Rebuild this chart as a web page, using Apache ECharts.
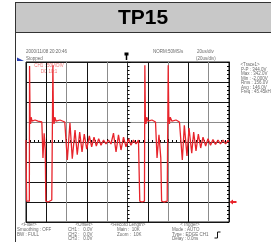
<!DOCTYPE html>
<html>
<head>
<meta charset="utf-8">
<script src="https://cdn.jsdelivr.net/npm/echarts@6/dist/echarts.min.js"></script>
<style>
  html, body { margin: 0; padding: 0; background: #fff; }
  #scope { width: 271px; height: 242px; }
</style>
</head>
<body>
<div id="scope"></div>
<script>
// CH1 trace, time in us (20us/div), volts (50V/div)
const timeUs = [
  0, 0.6, 2.0, 3.3, 3.5, 4.0, 4.5, 5.1, 5.9, 8.9,
  11.8, 15.6, 16.7, 17.9, 19.0, 19.5, 21.7, 25.4, 26.1, 26.5,
  27.0, 27.6, 28.4, 29.6, 33.5, 38.2, 40.7, 43.3, 45.6, 48.3,
  50.5, 52.9, 55.2, 57.4, 59.8, 62.4, 64.7, 67.0, 69.3, 71.6,
  73.9, 76.4, 78.8, 81.3, 83.7, 86.2, 88.7, 91.1, 93.6, 96.1,
  98.5, 101.0, 103.4, 105.9, 108.4, 110.8, 111.6, 112.1, 114.3, 116.7,
  117.1, 117.6, 118.2, 119.0, 120.2, 124.1, 127.6, 129.1, 131.0, 132.8,
  133.6, 136.0, 139.1, 140.1, 140.7, 141.3, 142.1, 143.8, 147.8, 151.2,
  154.0, 156.0, 158.6, 160.6, 163.3, 165.2, 167.5, 169.8, 172.1, 174.4,
  177.0, 179.3, 181.8, 184.2, 186.7, 189.2, 191.6, 194.1, 196.6, 199.0, 200
]
const ch1Volts = [
  155, 2, -2, 2, 340, 210, 195, 212, 202, 205,
  202, 200, 110, 172, 130, 2, 0, 5, 5, 342,
  210, 195, 212, 202, 205, 200, 105, 198, 108, 180,
  118, 175, 125, 170, 132, 165, 138, 162, 140, 158,
  142, 155, 145, 155, 145, 172, 125, 168, 130, 162,
  138, 158, 142, 155, 145, 155, 152, 2, 0, 2,
  342, 210, 195, 212, 202, 205, 200, 110, 168, 110,
  2, 0, 2, 342, 210, 195, 212, 202, 205, 200,
  105, 192, 115, 185, 122, 175, 128, 170, 135, 162,
  140, 158, 142, 156, 144, 155, 145, 155, 145, 154, 150
]

const titleText = 'TP15'
const stampText = '2000/11/08 20:20:46'
const statusText = 'Stopped'
const sampleText = 'NORM:50MS/s'
const timebaseText = ['20us/div', '(20us/div)']
const chLabel = ['CH1 : 50V/DIV', 'DC 10:1']
const traceLines = ['P-P : 344.0V', 'Max : 342.0V', 'Min : -2.000V', 'Rms : 156.0V', 'Avg : 146.0V', 'Freq : 45.45kHz']
const infoBlocks = [
  { head: '<Filter>', lines: ['Smoothing : OFF', 'BW : FULL'] },
  { head: '<Offset>', lines: ['CH1 :   0.0V', 'CH2 :   0.0V', 'CH3 :   0.0V'] },
  { head: '<Record Length>', lines: ['Main :  10K', 'Zoom :  10K'] },
  { head: '<Trigger>', lines: ['Mode : AUTO', 'Type : EDGE CH1', 'Delay : 0.0ns'] }
]

const small = '4.5px "Liberation Sans"'
const txtColor = '#6a6a6a'
const dark = '#151515'
const gray = '#8c8c8c'

function txt (text, x, y, align, color, font) {
  return {
    type: 'text',
    x: x,
    y: y,
    silent: true,
    style: {
      text: text,
      font: font || small,
      fill: color || txtColor,
      textAlign: align || 'left',
      textVerticalAlign: 'middle'
    }
  }
}

const graphics = [
  { type: 'rect', shape: { x: 15.5, y: 2.5, width: 260, height: 30 }, style: { fill: '#c8c8c8', stroke: '#333', lineWidth: 1 } },
  { type: 'line', shape: { x1: 15.5, y1: 2, x2: 15.5, y2: 242 }, style: { stroke: '#333', lineWidth: 1 } },
  txt(titleText, 143, 18, 'center', '#000', 'bold 21px "Liberation Sans"'),
  txt(stampText, 26, 52),
  txt(statusText, 26, 59),
  { type: 'polygon', shape: { points: [[17, 57.5], [24, 61], [17, 61]] }, style: { fill: '#2a3fb0' } },
  txt(sampleText, 153, 52),
  txt(timebaseText[0], 197, 52),
  txt(timebaseText[1], 196, 59),
  // trigger position marker
  { type: 'rect', shape: { x: 124.5, y: 52.5, width: 4, height: 3 }, style: { fill: '#000' } },
  { type: 'line', shape: { x1: 126.5, y1: 55, x2: 126.5, y2: 60 }, style: { stroke: '#000', lineWidth: 1.5 } },
  txt(chLabel[0], 49, 65.5, 'center', '#f07575'),
  txt(chLabel[1], 49, 71.5, 'center', '#f07575'),
  txt('<Trace1>', 250, 65, 'center'),
  // trigger edge icon
  { type: 'polyline', shape: { points: [[214.5, 238], [217.5, 238], [217.5, 232], [220.5, 232]] }, style: { stroke: '#111', lineWidth: 1, fill: null } }
]
traceLines.forEach((s, i) => { graphics.push(txt(s, 241, 69.5 + i * 4.5)) })
const blockX = [[29, 17], [84, 68], [128, 117], [190, 172]]
infoBlocks.forEach((b, i) => {
  graphics.push(txt(b.head, blockX[i][0], 225, 'center'))
  b.lines.forEach((s, j) => { graphics.push(txt(s, blockX[i][1], 229.5 + j * 4.8)) })
})

const xLines = [dark, dark, gray, dark, gray, dark, dark, gray, dark, gray, dark]
const yLines = [dark, dark, dark, dark, '#333', gray, dark, dark, dark]

const chart = echarts.init(document.getElementById('scope'), null, { renderer: 'canvas' })
const option = {
  animation: false,
  backgroundColor: '#fff',
  grid: { left: 26, top: 62, width: 203, height: 160, show: true, borderColor: dark, borderWidth: 1 },
  xAxis: [
    {
      type: 'value', min: 0, max: 200, interval: 20,
      axisLine: { show: false }, axisTick: { show: false }, axisLabel: { show: false },
      splitLine: { show: true, lineStyle: { color: xLines, width: 1 } }
    },
    // helper axis to place the centre line
    { type: 'value', min: -5, max: 5, show: false },
    {
      type: 'value', min: 0, max: 200, interval: 20, position: 'bottom',
      axisLine: { show: true, onZero: true, onZeroAxisIndex: 1, lineStyle: { color: '#333', width: 1 } },
      axisTick: { show: true, inside: true, length: 3, lineStyle: { color: '#000' } },
      minorTick: { show: true, splitNumber: 5, length: 2, lineStyle: { color: '#000' } },
      axisLabel: { show: false }, splitLine: { show: false }
    }
  ],
  yAxis: [
    {
      type: 'value', min: -50, max: 350, interval: 50,
      axisLine: { show: false }, axisTick: { show: false }, axisLabel: { show: false },
      splitLine: { show: true, lineStyle: { color: yLines, width: 1 } }
    },
    { type: 'value', min: -4, max: 4, show: false },
    {
      type: 'value', min: -50, max: 350, interval: 50, position: 'left',
      axisLine: { show: true, onZero: true, onZeroAxisIndex: 1, lineStyle: { color: '#333', width: 1 } },
      axisTick: { show: true, inside: true, length: 3, lineStyle: { color: '#000' } },
      minorTick: { show: true, splitNumber: 5, length: 2, lineStyle: { color: '#000' } },
      axisLabel: { show: false }, splitLine: { show: false }
    },
    {
      type: 'value', min: -50, max: 350, interval: 50, position: 'right',
      axisLine: { show: true, onZero: false, lineStyle: { color: dark, width: 1 } },
      axisTick: { show: true, inside: true, length: 2, lineStyle: { color: '#000' } },
      minorTick: { show: true, splitNumber: 5, length: 2, lineStyle: { color: '#000' } },
      axisLabel: { show: false }, splitLine: { show: false }
    }
  ],
  graphic: graphics,
  series: [
    {
      name: 'CH1',
      type: 'line',
      xAxisIndex: 0,
      yAxisIndex: 0,
      data: timeUs.map((t, i) => [t, ch1Volts[i]]),
      symbol: 'none',
      lineStyle: { color: '#e8242b', width: 1.3 },
      markPoint: {
        silent: true,
        symbol: 'path://M0,5 L6,0 L6,3 L12,3 L12,7 L6,7 L6,10 Z',
        symbolSize: [7, 5],
        symbolOffset: [4, 0],
        itemStyle: { color: '#e8242b' },
        label: { show: false },
        data: [{ coord: [200, 0] }]
      }
    }
  ]
}
chart.setOption(option)
</script>
</body>
</html>
